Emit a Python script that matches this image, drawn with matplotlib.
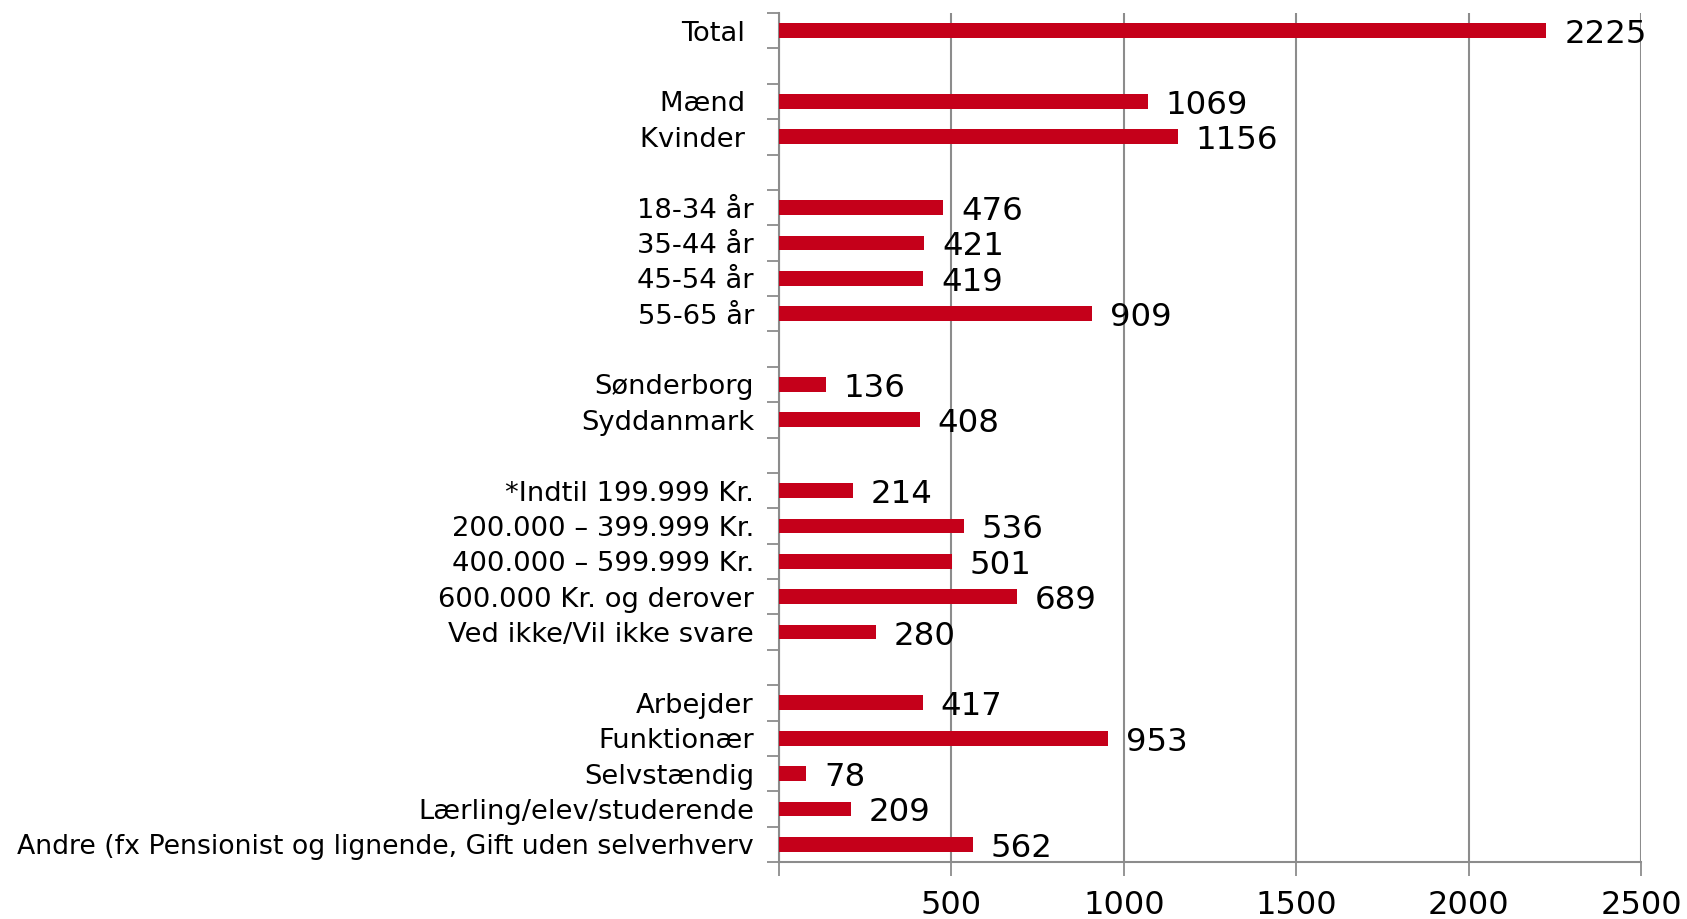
import matplotlib
matplotlib.use("Agg")
import matplotlib.pyplot as plt
import numpy as np

total_labels = ["Total "]
total_values = [2225]
gender_labels = ["Mænd ", "Kvinder "]
gender_values = [1069, 1156]
age_labels = ["18-34 år", "35-44 år", "45-54 år", "55-65 år"]
age_values = [476, 421, 419, 909]
region_labels = ["Sønderborg", "Syddanmark"]
region_values = [136, 408]
income_labels = ["*Indtil 199.999 Kr.", "200.000 – 399.999 Kr.", "400.000 – 599.999 Kr.",
                 "600.000 Kr. og derover", "Ved ikke/Vil ikke svare"]
income_values = [214, 536, 501, 689, 280]
job_labels = ["Arbejder", "Funktionær", "Selvstændig", "Lærling/elev/studerende",
              "Andre (fx Pensionist og lignende, Gift uden selverhverv"]
job_values = [417, 953, 78, 209, 562]
x_ticks = [0, 500, 1000, 1500, 2000, 2500]
x_ticklabels = ["", "500", "1000", "1500", "2000", "2500"]

groups = [(total_labels, total_values), (gender_labels, gender_values),
          (age_labels, age_values), (region_labels, region_values),
          (income_labels, income_values), (job_labels, job_values)]

labels, values, slots = [], [], []
pos = 0
for gi, (lab, val) in enumerate(groups):
    if gi > 0:
        pos += 1  # blank slot
    for l, v in zip(lab, val):
        labels.append(l)
        values.append(v)
        slots.append(pos)
        pos += 1
nslots = pos

bar_color = "#C5001A"
grid_color = "#8C8C8C"

fig = plt.figure(figsize=(16.87, 9.19), dpi=100)
ax = fig.add_axes([779/1687, 1 - 862/919, (1641-779)/1687, (862-13)/919])

ax.barh(slots, values, height=0.42, color=bar_color, zorder=3)
ax.set_ylim(nslots - 0.5, -0.5)
ax.set_xlim(0, 2500)

ax.set_yticks(slots)
ax.set_yticklabels(labels)
ax.tick_params(axis="y", which="major", length=0, pad=18, labelsize=19.7)
ax.set_yticks(np.arange(-0.5, nslots, 1.0), minor=True)
ax.tick_params(axis="y", which="minor", length=9, width=1.3, color=grid_color, direction="out")

for t in ax.get_yticklabels():
    if t.get_text().startswith("Andre"):
        t.set_fontsize(19.3)

ax.set_xticks(x_ticks)
ax.set_xticklabels(x_ticklabels)
ax.tick_params(axis="x", length=10, width=1.3, color=grid_color, labelsize=23, pad=10)
ax.xaxis.grid(True, color=grid_color, linewidth=1.5, zorder=0)

for s in ["top", "right"]:
    ax.spines[s].set_visible(False)
for s in ["left", "bottom"]:
    ax.spines[s].set_color(grid_color)
    ax.spines[s].set_linewidth(1.5)

for y, v in zip(slots, values):
    ax.annotate(str(v), xy=(v, y), xytext=(18, -4), textcoords="offset pixels",
                va="center", ha="left", fontsize=23.3, color="black")

fig.savefig("out.png", dpi=100)
